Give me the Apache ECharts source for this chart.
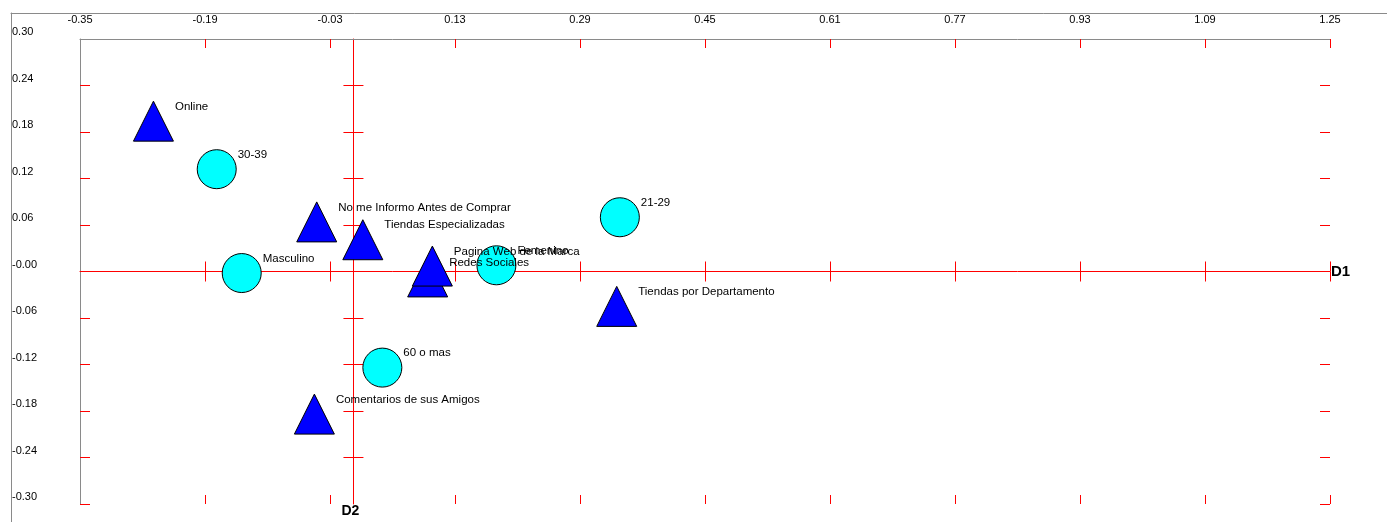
<!DOCTYPE html>
<html><head><meta charset="utf-8">
<script src="https://cdn.jsdelivr.net/npm/echarts@6/dist/echarts.min.js"></script>
<style>html,body{margin:0;padding:0;background:#fff}#c{width:1387px;height:522px}</style>
</head><body><div id="c"></div>
<script>
// Tick values and labels
const xTickValues = [-0.35, -0.19, -0.03, 0.13, 0.29, 0.45, 0.61, 0.77, 0.93, 1.09, 1.25];
const xTickLabels = ['-0.35', '-0.19', '-0.03', '0.13', '0.29', '0.45', '0.61', '0.77', '0.93', '1.09', '1.25'];
const yTickValues = [0.30, 0.24, 0.18, 0.12, 0.06, 0, -0.06, -0.12, -0.18, -0.24, -0.30];
const yTickLabels = ['0.30', '0.24', '0.18', '0.12', '0.06', '-0.00', '-0.06', '-0.12', '-0.18', '-0.24', '-0.30'];

// Triangles (blue)
const triangleNames = ['Online', 'No me Informo Antes de Comprar', 'Tiendas Especializadas', 'Redes Sociales', 'Pagina Web de la Marca', 'Tiendas por Departamento', 'Comentarios de sus Amigos'];
const triangleD1 = [-0.256, -0.047, 0.012, 0.095, 0.101, 0.337, -0.050];
const triangleD2 = [0.194, 0.064, 0.041, -0.007, 0.007, -0.045, -0.184];

// Circles (cyan)
const circleNames = ['30-39', 'Masculino', '21-29', 'Femenino', '60 o mas'];
const circleD1 = [-0.175, -0.143, 0.341, 0.183, 0.037];
const circleD2 = [0.132, -0.002, 0.070, 0.008, -0.124];

const FONT = 'Liberation Sans';
const RED = '#ff0000';
const GRAY = '#8a8a8a';

function nearestLabel(vals, labels, v) {
  let bi = 0, bd = Infinity;
  vals.forEach((t, i) => { const d = Math.abs(t - v); if (d < bd) { bd = d; bi = i; } });
  return labels[bi];
}

const xInner = xTickValues.slice(1);
const yInner = yTickValues.slice(1);
const yZeroTicks = yTickValues.slice(1, -1);
const XMIN = xTickValues[0], XMAX = xTickValues[xTickValues.length - 1];
const YMIN = yTickValues[yTickValues.length - 1], YMAX = yTickValues[0];

function xAx(extra) {
  return Object.assign({
    type: 'value', gridIndex: 0, min: XMIN, max: XMAX,
    splitLine: { show: false }, axisLabel: { show: false }, axisTick: { show: false },
    axisLine: { show: false, onZero: false }
  }, extra);
}
function yAx(extra) {
  return Object.assign({
    type: 'value', gridIndex: 0, min: YMIN, max: YMAX,
    splitLine: { show: false }, axisLabel: { show: false }, axisTick: { show: false },
    axisLine: { show: false, onZero: false }
  }, extra);
}

const labelStyle = {
  show: true, position: 'right', distance: 1, offset: [0, -14.5],
  color: '#000', fontFamily: FONT, fontSize: 11.5,
  formatter: p => p.name
};

const option = {
  animation: false,
  backgroundColor: '#fff',
  textStyle: { fontFamily: FONT },
  grid: [
    { left: 80, top: 39, width: 1250, height: 465 },
    { left: 11, top: 13, right: 0, bottom: 0 }
  ],
  xAxis: [
    // top frame axis with labels
    xAx({
      position: 'top',
      axisLine: { show: true, onZero: false, lineStyle: { color: GRAY, width: 1 } },
      axisTick: { show: true, inside: true, length: 9, customValues: xInner, lineStyle: { color: RED } },
      axisLabel: { show: true, margin: 14, customValues: xTickValues, color: '#000', fontSize: 11, fontFamily: FONT,
        formatter: v => nearestLabel(xTickValues, xTickLabels, v) }
    }),
    // bottom frame ticks
    xAx({
      position: 'bottom',
      axisTick: { show: true, inside: true, length: 9, customValues: xInner, lineStyle: { color: RED } }
    }),
    // zero line (D1) ticks up
    xAx({
      position: 'bottom',
      axisLine: { show: true, onZero: true, onZeroAxisIndex: 0, lineStyle: { color: RED, width: 1 } },
      axisTick: { show: true, inside: true, length: 10, customValues: xInner, lineStyle: { color: RED } },
      name: 'D1', nameLocation: 'end', nameGap: 1,
      nameTextStyle: { color: '#000', fontWeight: 'bold', fontSize: 15, fontFamily: FONT, padding: [6, 0, 0, 0] }
    }),
    // zero line ticks down
    xAx({
      position: 'bottom',
      axisLine: { show: false, onZero: true, onZeroAxisIndex: 0 },
      axisTick: { show: true, inside: false, length: 10, customValues: xInner, lineStyle: { color: RED } }
    }),
    // outer frame top line
    { type: 'value', gridIndex: 1, min: 0, max: 1, position: 'top',
      axisLine: { show: true, onZero: false, lineStyle: { color: GRAY, width: 1 } },
      axisTick: { show: false }, axisLabel: { show: false }, splitLine: { show: false } }
  ],
  yAxis: [
    // left frame axis with labels
    yAx({
      position: 'left',
      axisLine: { show: true, onZero: false, lineStyle: { color: GRAY, width: 1 } },
      axisTick: { show: true, inside: true, length: 10, customValues: yInner, lineStyle: { color: RED } },
      axisLabel: { show: true, customValues: yTickValues, align: 'left', margin: 68, verticalAlign: 'bottom', lineHeight: 14,
        color: '#000', fontSize: 11, fontFamily: FONT,
        formatter: v => nearestLabel(yTickValues, yTickLabels, v) }
    }),
    // right frame ticks
    yAx({
      position: 'right',
      axisTick: { show: true, inside: true, length: 10, customValues: yInner, lineStyle: { color: RED } }
    }),
    // zero line (D2) ticks right
    yAx({
      position: 'left',
      axisLine: { show: true, onZero: true, onZeroAxisIndex: 0, lineStyle: { color: RED, width: 1 } },
      axisTick: { show: true, inside: true, length: 10, customValues: yZeroTicks, lineStyle: { color: RED } },
      name: 'D2', nameLocation: 'start', nameGap: 0,
      nameTextStyle: { color: '#000', fontWeight: 'bold', fontSize: 14, fontFamily: FONT, padding: [0, 6, 0, 0] }
    }),
    // zero line ticks left
    yAx({
      position: 'left',
      axisLine: { show: false, onZero: true, onZeroAxisIndex: 0 },
      axisTick: { show: true, inside: false, length: 10, customValues: yZeroTicks, lineStyle: { color: RED } }
    }),
    // outer frame left line
    { type: 'value', gridIndex: 1, min: 0, max: 1, position: 'left',
      axisLine: { show: true, onZero: false, lineStyle: { color: GRAY, width: 1 } },
      axisTick: { show: false }, axisLabel: { show: false }, splitLine: { show: false } }
  ],
  series: [
    {
      type: 'scatter', name: 'triangles', xAxisIndex: 0, yAxisIndex: 0,
      symbol: 'triangle', symbolSize: [40, 40],
      itemStyle: { color: '#0000ff', borderColor: '#000', borderWidth: 1, opacity: 1 },
      label: labelStyle,
      emphasis: { disabled: true },
      data: triangleNames.map((n, i) => ({ name: n, value: [triangleD1[i], triangleD2[i]] }))
    },
    {
      type: 'scatter', name: 'circles', xAxisIndex: 0, yAxisIndex: 0,
      symbol: 'circle', symbolSize: 39,
      itemStyle: { color: '#00ffff', borderColor: '#000', borderWidth: 1, opacity: 1 },
      label: labelStyle,
      emphasis: { disabled: true },
      data: circleNames.map((n, i) => ({ name: n, value: [circleD1[i], circleD2[i]] }))
    }
  ]
};

const chart = echarts.init(document.getElementById('c'), null, { renderer: 'canvas' });
chart.setOption(option);
</script>
</body></html>
